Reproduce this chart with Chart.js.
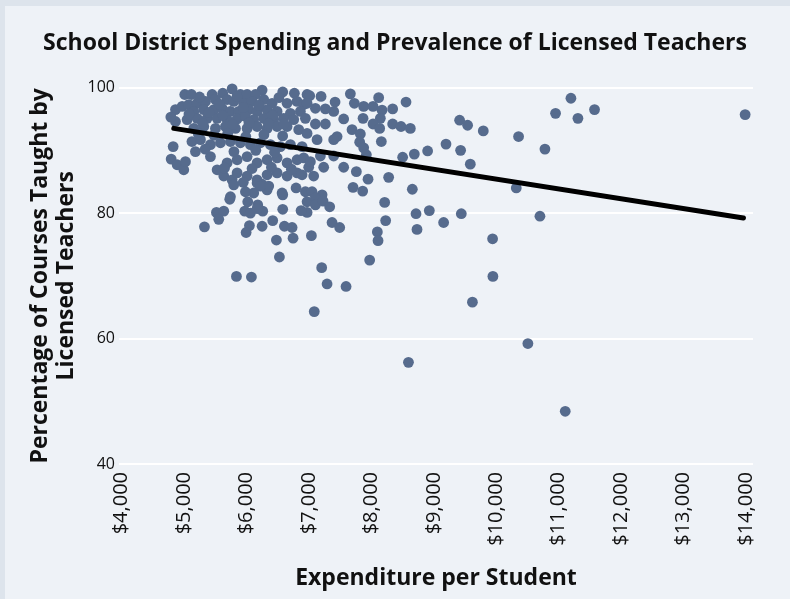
<!DOCTYPE html>
<html>
<head>
<meta charset="utf-8">
<script src="https://cdn.jsdelivr.net/npm/chart.js@4.4.0/dist/chart.umd.min.js"></script>
<style>
  html, body { margin: 0; padding: 0; background: #dde4ec; }
  #wrap { width: 790px; height: 599px; }
</style>
</head>
<body>
<div id="wrap"><canvas id="spendChart"></canvas></div>
<script>
// expenditure per student ($) for each district
const spending = [
  5771, 6251, 5013, 5120, 5451, 5621, 5904, 6011, 6144, 6581, 6768, 6971,
  4864, 4971, 5077, 5211, 5344, 5504, 5691, 5797, 5957, 6091, 6277, 6411, 6651, 6811, 6917,
  5157, 5317, 5477, 5611, 5744, 5877, 6037, 6171, 6331, 6491, 6704, 6864,
  4864, 5051, 5211, 5371, 5531, 5691, 5851, 5984, 6117, 6277, 6437, 6597, 6757, 6944,
  5157, 5317, 5504, 5664, 5824, 6011, 6171, 6331, 6491, 6651, 6837,
  5128, 5264, 5424, 5584, 5744, 5904, 6064, 6224, 6384, 6544, 6704, 6891,
  4827, 4795, 4891, 4997, 5024, 5184, 5424, 5531, 5691, 5851, 6011, 6171, 6331, 6491, 6651, 6811,
  5637, 5771, 5851, 6011, 6171, 6331, 6491, 6651, 6811,
  5744, 6117, 6331, 6571,
  5250, 5560, 5850, 6200, 6520, 5400, 5950, 6420, 5080, 5620, 6040, 6600, 5300, 5780, 6350,
  5230, 5480, 5700, 5990, 6280, 6580, 5340, 5800, 6150, 6450, 5650, 6090, 6400, 6720,
  5950, 6250, 4790,
  5797, 6171, 6357, 6224, 6581, 6795, 6944, 6971, 5733, 5984, 6021, 6181,
  5520, 5637, 5557, 5328, 5973, 6064, 6261, 6581, 6048, 5995, 6251, 6421, 6608, 6731,
  6747, 6480, 6528, 5840, 6080, 6971, 6875, 6171,
  7013, 7195, 7664, 7728, 7877, 8027, 8117, 8171, 8341, 8555, 7419, 7397, 7264, 7104, 6971,
  7557, 7867, 8144, 8027, 8341, 8475, 8624, 9413, 8133, 7691, 7104, 7264,
  7824, 8160, 7451, 7813, 7877, 7397, 7131, 6971,
  9195, 8901, 8688, 8501, 7920, 7557, 7760, 7947, 8277, 7707, 7861, 8656,
  7077, 6997, 7237, 6891, 7051, 7211, 7397, 7184, 6917, 7024, 7104,
  8213, 8715, 8928, 9440, 9157, 8731, 8229, 8096, 8107, 7973, 7371, 7493, 7040,
  7205, 7291, 7595, 7104, 7227, 7333, 7086,
  9541, 9792, 9429, 9584, 10357, 10779, 10320, 10949, 11195, 11307, 11573, 13984,
  10699, 9941, 9946, 9618, 10506, 11104, 8594
];

// percentage of courses taught by licensed teachers
const licensedPct = [
  99.8, 99.6, 98.9, 98.9, 98.9, 99.1, 98.9, 98.9, 98.9, 99.3, 99.1, 98.9,
  96.5, 97.0, 97.3, 97.5, 97.8, 98.1, 98.1, 97.8, 97.5, 97.8, 98.1, 97.5, 97.5, 97.8, 97.3,
  96.2, 96.5, 96.5, 96.7, 96.2, 96.2, 96.5, 96.2, 96.5, 96.2, 95.9, 96.2,
  94.6, 94.9, 95.1, 95.1, 95.1, 94.9, 95.0, 95.4, 94.9, 95.1, 94.9, 95.1, 94.9, 95.1,
  93.5, 93.8, 93.5, 93.8, 93.5, 93.5, 93.8, 93.5, 93.8, 93.8, 93.3,
  91.4, 91.7, 90.9, 91.2, 91.4, 91.2, 90.9, 91.2, 90.9, 90.6, 90.9, 90.6,
  90.6, 88.6, 87.7, 86.9, 88.2, 89.8, 89.0, 86.9, 88.0, 88.5, 89.0, 88.0, 88.5, 88.8, 88.0, 88.5,
  85.9, 85.3, 86.4, 85.9, 85.3, 86.1, 86.4, 85.9, 86.4,
  82.6, 83.2, 83.7, 83.2,
  98.5, 97.4, 98.6, 97.2, 98.4, 96.0, 96.8, 95.6, 95.8, 95.6, 94.4, 94.2, 94.3, 94.1, 94.3,
  92.6, 92.4, 92.7, 92.2, 92.5, 92.3, 90.2, 89.8, 90.0, 89.7, 87.2, 87.1, 87.3, 87.0,
  84.9, 84.6, 95.3,
  84.5, 84.8, 84.3, 84.3, 82.9, 84.0, 83.4, 81.8, 82.2, 83.4, 81.8, 81.3,
  80.1, 80.3, 79.0, 77.8, 80.3, 80.0, 80.3, 80.6, 78.0, 76.9, 77.9, 78.8, 77.9, 77.7,
  76.0, 75.7, 73.0, 69.9, 69.8, 80.1, 80.4, 80.7,
  98.7, 98.6, 99.0, 97.5, 97.0, 97.0, 98.4, 96.4, 96.6, 97.7, 97.7, 96.2, 96.6, 96.7, 97.5,
  95.0, 95.1, 95.1, 94.2, 94.2, 93.8, 93.5, 94.8, 93.5, 93.3, 94.2, 94.2,
  92.6, 91.4, 92.2, 91.3, 90.4, 91.7, 91.7, 92.7,
  91.0, 89.9, 89.4, 88.9, 89.3, 87.3, 86.6, 85.4, 85.7, 84.1, 83.5, 83.8,
  85.9, 87.3, 87.3, 86.1, 83.4, 82.9, 89.1, 89.1, 88.8, 88.2, 82.4,
  81.7, 79.9, 80.4, 79.9, 78.5, 77.4, 78.8, 77.0, 75.6, 72.5, 78.5, 77.7, 76.4,
  71.3, 68.7, 68.3, 81.3, 81.9, 81.0, 64.3,
  94.0, 93.1, 90.0, 87.8, 92.2, 90.2, 84.0, 95.9, 98.3, 95.1, 96.5, 95.7,
  79.5, 75.9, 69.9, 65.8, 59.2, 48.4, 56.2
];

// fitted trend line end points
const trendX = [4837, 13957];
const trendY = [93.5, 79.2];

const xTickValues = [4000, 5000, 6000, 7000, 8000, 9000, 10000, 11000, 12000, 13000, 14000];
const yTickValues = [40, 60, 80, 100];

const FONT = "'Open Sans', 'DejaVu Sans', sans-serif";

const districts = spending.map((x, i) => ({ x: x, y: licensedPct[i] }));
const trend = trendX.map((x, i) => ({ x: x, y: trendY[i] }));

const panelBg = {
  id: 'panelBg',
  beforeDraw(chart) {
    const c = chart.ctx;
    c.save();
    c.fillStyle = '#dde4ec';
    c.fillRect(0, 0, chart.width, chart.height);
    c.fillStyle = '#eef2f7';
    c.fillRect(5, 6, chart.width - 5, chart.height - 6);
    c.restore();
  }
};

new Chart(document.getElementById('spendChart'), {
  type: 'scatter',
  data: {
    datasets: [
      {
        type: 'line',
        data: trend,
        borderColor: '#000',
        borderWidth: 5,
        borderCapStyle: 'round',
        pointRadius: 0,
        fill: false,
        order: 0
      },
      {
        data: districts,
        backgroundColor: '#566b8d',
        borderWidth: 0,
        pointRadius: 5.4,
        clip: false,
        order: 1
      }
    ]
  },
  options: {
    responsive: true,
    maintainAspectRatio: false,
    animation: false,
    layout: { padding: 0 },
    plugins: {
      legend: { display: false },
      tooltip: { enabled: false },
      title: {
        display: true,
        text: 'School District Spending and Prevalence of Licensed Teachers',
        color: '#111',
        font: { family: FONT, size: 23, weight: 'bold', lineHeight: 1.2 },
        padding: { top: 30, bottom: 30 }
      }
    },
    scales: {
      x: {
        type: 'linear',
        min: 3960,
        max: 14110,
        afterBuildTicks: s => { s.ticks = xTickValues.map(v => ({ value: v })); },
        afterFit: s => { s.height = 135; },
        grid: { display: false, drawTicks: false },
        border: { display: false },
        ticks: {
          color: '#111',
          font: { family: FONT, size: 20 },
          minRotation: 90,
          maxRotation: 90,
          padding: 8,
          callback: v => '$' + v.toLocaleString('en-US')
        },
        title: {
          display: true,
          text: 'Expenditure per Student',
          color: '#111',
          font: { family: FONT, size: 23, weight: 'bold', lineHeight: 1.2 },
          padding: { top: 0, bottom: 7 }
        }
      },
      y: {
        min: 40,
        max: 100,
        afterBuildTicks: s => { s.ticks = yTickValues.map(v => ({ value: v })); },
        afterFit: s => { s.width = 119; },
        grid: { color: '#ffffff', lineWidth: 2, drawTicks: false },
        border: { display: false },
        ticks: {
          color: '#111',
          font: { family: FONT, size: 16 },
          padding: 4
        },
        title: {
          display: true,
          text: ['Percentage of Courses Taught by', 'Licensed Teachers'],
          color: '#111',
          font: { family: FONT, size: 23, weight: 'bold', lineHeight: 1.13 },
          padding: { top: 27, bottom: 0 }
        }
      },
      // empty right-hand gutter so the title stays centred on the whole panel
      gutter: {
        position: 'right',
        afterFit: s => { s.width = 37; },
        grid: { display: false, drawTicks: false },
        border: { display: false },
        ticks: { display: false }
      }
    }
  },
  plugins: [panelBg]
});
</script>
</body>
</html>
